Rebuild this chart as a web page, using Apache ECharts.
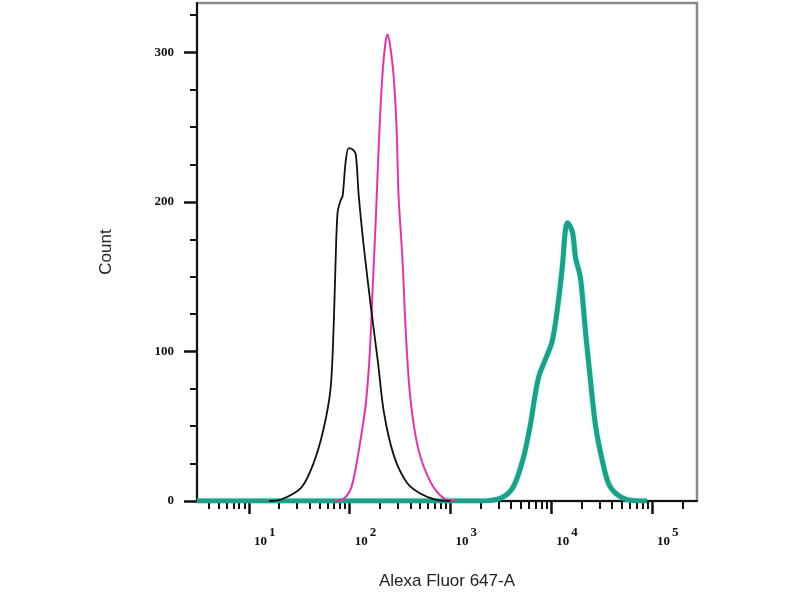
<!DOCTYPE html>
<html>
<head>
<meta charset="utf-8">
<script src="https://cdn.jsdelivr.net/npm/echarts@6/dist/echarts.min.js"></script>
<style>html,body{margin:0;padding:0;background:#fff}#c{width:800px;height:600px}</style>
</head>
<body>
<div id="c"></div>
<script>
// x values are log10(Alexa Fluor 647-A intensity)
const blackX = [1.20,1.32,1.52,1.64,1.74,1.81,1.84,1.86,1.88,1.91,1.93,1.96,1.99,2.03,2.06,2.09,2.14,2.21,2.28,2.34,2.44,2.57,2.70,2.85,3.00];
const blackY = [0,1,9,25,48,75,115,160,193,201,204,227,236,235,232,204,170,130,93,59,30,12,5,1,0];
const magentaX = [1.85,1.93,2.01,2.06,2.11,2.16,2.20,2.23,2.26,2.29,2.32,2.35,2.376,2.40,2.435,2.465,2.485,2.525,2.555,2.60,2.68,2.80,2.93,3.05];
const magentaY = [0,1,8,22,42,65,100,145,190,240,280,304,312,305,285,250,204,160,115,70,35,13,2,0];
const tealX = [0.485,3.30,3.50,3.62,3.72,3.79,3.84,3.88,3.95,4.01,4.06,4.11,4.14,4.16,4.21,4.24,4.29,4.34,4.39,4.44,4.51,4.58,4.71,4.88,4.95];
const tealY = [0,0,2,9,28,50,71,84,96,107,128,157,181,186,180,163,149,113,80,50,26,10,2,0,0];
const xMajor = [1,2,3,4,5];
const yMajor = [0,100,200,300];
const yMinor = [25,50,75,125,150,175,225,250,275,325];

const xMin = 0.485, xMax = 5.446;
const xMinor = [];
for (let d = 0; d <= 5; d++) for (let k = 2; k <= 9; k++) {
  const v = d + Math.log10(k);
  if (v > xMin && v < xMax) xMinor.push(v);
}
const pair = (xs, ys) => xs.map((x, i) => [x, ys[i]]);

const chart = echarts.init(document.getElementById('c'), null, {renderer: 'canvas'});
const serifBold = {fontFamily: 'Liberation Serif', fontWeight: 'bold', color: '#111'};
chart.setOption({
  animation: false,
  grid: {left: 197, right: 103, top: 3, bottom: 99, show: true, borderColor: '#8a8a8a', borderWidth: 2.5, backgroundColor: 'transparent'},
  xAxis: [{
    type: 'value', min: xMin, max: xMax,
    name: 'Alexa Fluor 647-A', nameLocation: 'middle', nameGap: 72,
    nameTextStyle: {fontFamily: 'Liberation Sans', fontSize: 17, color: '#222'},
    axisLine: {show: true, lineStyle: {color: '#111', width: 2}},
    axisTick: {show: true, customValues: xMajor, length: 13, lineStyle: {color: '#111', width: 2.5}},
    axisLabel: {show: true, customValues: xMajor, margin: 25, align: 'left', padding: [0,0,0,5],
      formatter: v => '{b|10}{s|' + v + '}',
      rich: {
        b: Object.assign({fontSize: 13, lineHeight: 22, verticalAlign: 'bottom'}, serifBold),
        s: Object.assign({fontSize: 13, lineHeight: 22, verticalAlign: 'top', padding: [0,0,0,2]}, serifBold)
      }},
    splitLine: {show: false}
  }, {
    type: 'value', min: xMin, max: xMax, position: 'bottom', gridIndex: 0,
    axisLine: {show: false},
    axisTick: {show: true, customValues: xMinor, length: 8, lineStyle: {color: '#111', width: 2}},
    axisLabel: {show: false}, splitLine: {show: false}
  }],
  yAxis: [{
    type: 'value', min: 0, max: 333,
    name: 'Count', nameLocation: 'middle', nameGap: 82,
    nameTextStyle: {fontFamily: 'Liberation Sans', fontSize: 17, color: '#222'},
    axisLine: {show: true, lineStyle: {color: '#111', width: 2}},
    axisTick: {show: true, customValues: yMajor, length: 13, lineStyle: {color: '#111', width: 2.5}},
    axisLabel: Object.assign({show: true, customValues: yMajor, margin: 23, fontSize: 13}, serifBold),
    splitLine: {show: false}
  }, {
    type: 'value', min: 0, max: 333, position: 'left',
    axisLine: {show: false},
    axisTick: {show: true, customValues: yMinor, length: 7, lineStyle: {color: '#111', width: 2}},
    axisLabel: {show: false}, splitLine: {show: false}
  }],
  series: [
    {type: 'line', data: pair(tealX, tealY), smooth: 0.3, showSymbol: false,
      lineStyle: {color: '#1f9e88', width: 5, shadowColor: 'rgba(60,230,210,0.5)', shadowBlur: 3}},
    {type: 'line', data: pair(magentaX, magentaY), smooth: 0.3, showSymbol: false,
      lineStyle: {color: '#cf3a9f', width: 1.8, shadowColor: 'rgba(240,100,200,0.5)', shadowBlur: 2}},
    {type: 'line', data: pair(blackX, blackY), smooth: 0.3, showSymbol: false,
      lineStyle: {color: '#111', width: 1.8}}
  ]
});
</script>
</body>
</html>
